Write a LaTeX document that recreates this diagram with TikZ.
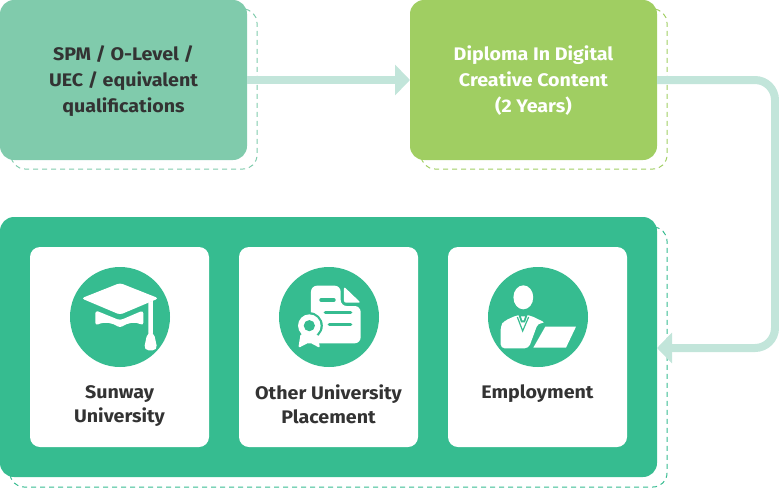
\documentclass[tikz,border=0pt]{standalone}
\usepackage{fontspec}
\setmainfont[FakeStretch=1.08]{Fira Sans}
\usetikzlibrary{arrows.meta}
\definecolor{mint}{HTML}{80CBAC}
\definecolor{lime}{HTML}{A0CE62}
\definecolor{teal}{HTML}{36BC90}
\definecolor{pale}{HTML}{C2E5DA}
\definecolor{ink}{HTML}{333333}
\tikzset{
  box/.style={rectangle,inner sep=0pt,outer sep=0pt,rounded corners=14pt,minimum width=247pt,minimum height=160pt,align=center,font=\fontsize{18.2}{26}\selectfont\bfseries},
  dashbox/.style={line width=1pt,dash pattern=on 5pt off 4pt,rounded corners=14pt},
  card/.style={rectangle,fill=white,inner sep=0pt,outer sep=0pt,rounded corners=10pt,minimum width=179pt,minimum height=200pt},
  lab/.style={align=center,text=ink,inner sep=0pt,font=\fontsize{18.2}{24}\selectfont\bfseries},
  disc/.style={circle,fill=teal,inner sep=0pt,minimum size=100pt},
  flow/.style={draw=pale,line width=8pt,rounded corners=20pt,-{Triangle[length=15pt,width=30pt]}},
  gline/.style={draw=teal,line width=3.4pt,line cap=round}
}
\begin{document}
\begin{tikzpicture}[x=1pt,y=-1pt]
\useasboundingbox (0,0) rectangle (779,488);
% dashed offsets
\draw[dashbox,draw=mint] (11,9) rectangle (257,169);
\draw[dashbox,draw=lime] (421,9) rectangle (667,169);
\draw[dashbox,draw=teal] (10,227) rectangle (667,487);
% boxes
\node[box,fill=mint] (src) at (123.5,80) {};
\node[box,fill=lime] (dip) at (533.5,80) {};
\node[box,text=ink] (srctext) at (123.5,81) {SPM / O-Level /\\UEC / equivalent\\qualifications};
\node[box,text=white] (diptext) at (533.5,80.5) {Diploma In Digital\\Creative Content\\(2 Years)};
\node[box,fill=teal,minimum width=657pt,minimum height=260pt] (out) at (328.5,347) {};
% connectors
\coordinate (b1) at (775,80);
\coordinate (b2) at (775,348);
\draw[flow] (src.east) -- (dip.west);
\draw[flow] (dip.east) -- (b1) -- (b2) -- ([yshift=-1pt]out.east);
% cards
\node[card] (c1) at (119.5,347) {};
\node[card] (c2) at (328.5,347) {};
\node[card] (c3) at (537.5,347) {};
\node[disc] (d1) at (120,317) {};
\node[disc] (d2) at (329,317) {};
\node[disc] (d3) at (538,317) {};
\node[lab] (l1) at (119.5,406.5) {Sunway\\University};
\node[lab] (l2) at (328.5,404.5) {Other University\\Placement};
\node[lab] (l3) at (537.5,394) {Employment};
% cap icon
\begin{scope}[shift={(60,255)},x=0.3333pt,y=-0.3333pt]
\fill[white,rounded corners=3pt] (64,130) -- (180,84) -- (296,130) -- (180,179) -- cycle;
\fill[white,rounded corners=3pt] (106,166) -- (180,196) -- (250,166) -- (250,212)
  .. controls (225,198) and (200,205) .. (180,219) .. controls (160,205) and (135,198) .. (106,212) -- cycle;
\fill[white] (265,142) -- (279,137) -- (279,235) -- (265,235) -- cycle;
\fill[white,rounded corners=5pt] (263,230) -- (281,230) -- (293,286) -- (251,286) -- cycle;
\end{scope}
% certificate icon
\begin{scope}[shift={(270,255)},x=0.3333pt,y=-0.3333pt]
\fill[white,rounded corners=6pt] (123,92) -- (212,92) -- (212,153) -- (272,153) -- (272,265) -- (123,265) -- cycle;
\fill[white,rounded corners=2pt] (222,95) -- (272,143) -- (222,143) -- cycle;
\fill[teal] (118,212) circle[radius=13.5pt];
\draw[gline] (153,135) -- (192,135);
\draw[gline] (166,172) -- (242,172);
\draw[gline] (178,209) -- (242,209);
\fill[white,rounded corners=2pt] (92,235) -- (85,279) -- (118,262) -- (150,279) -- (142,235) -- cycle;
\fill[white] (118,212) circle[radius=11.3pt];
\fill[teal] (118,212) circle[radius=5.6pt];
\end{scope}
% employee icon
\begin{scope}[shift={(480,255)},x=0.3333pt,y=-0.3333pt]
\fill[white] (130,127) ellipse[x radius=9.9pt,y radius=12pt];
\fill[white,rounded corners=4pt] (62,280) -- (62,212) -- (72,198) -- (112,180) -- (148,180) -- (198,204) -- (174,204) -- (146,280) -- cycle;
\draw[teal,line width=1.2pt] (112,186) -- (128,228) -- (146,186);
\fill[teal] (115,178) -- (143,178) -- (135,202) -- (123,202) -- cycle;
\fill[white] (123,184) -- (135,184) -- (131,196) -- (127,196) -- cycle;
\fill[white] (196,215) -- (288,215) -- (258,278) -- (160,278) -- cycle;
\end{scope}
\end{tikzpicture}
\end{document}
